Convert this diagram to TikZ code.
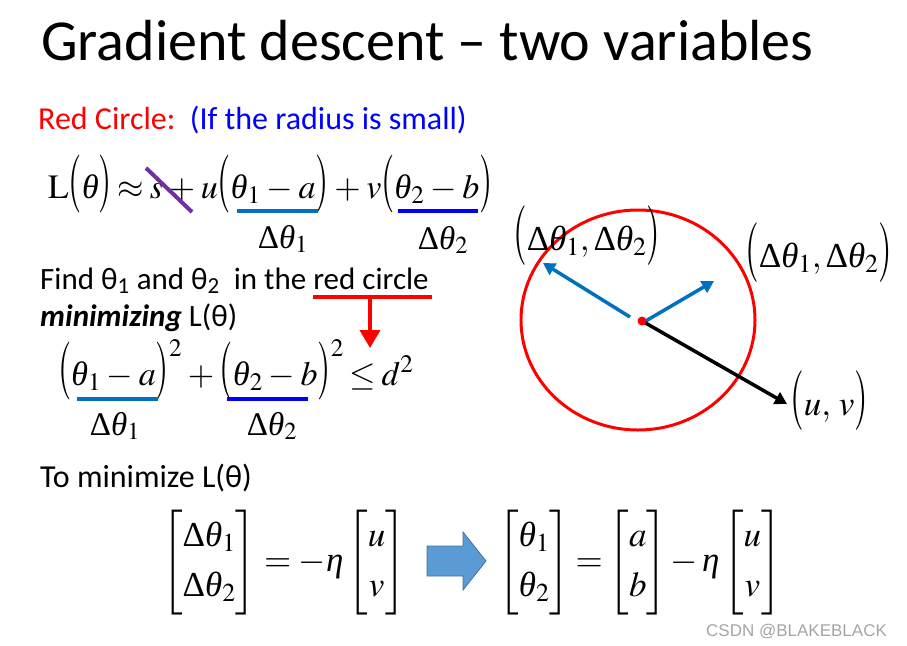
\documentclass[tikz,border=0pt]{standalone}
\usepackage{amsmath}
\usepackage{graphicx}
\usepackage{mathptmx}
\usepackage[no-math]{fontspec}
\setmainfont{Carlito}
\newfontfamily\wmfont{Liberation Sans}
\newfontfamily\tms{Liberation Serif}
\newfontfamily\tmsit{Liberation Serif Italic}
\newcommand{\thet}{\text{\tmsit θ}}
\newcommand{\etaa}{\text{\tmsit η}}
\newcommand{\Dlt}{\text{\tms Δ}}
\newcommand{\lpar}{\mathopen{\scalebox{1}[1.7]{$($}}}
\newcommand{\rpar}{\mathclose{\scalebox{1}[1.7]{$)$}}}
\newcommand{\sqr}{^{\raisebox{-5pt}{$\scriptstyle 2$}}}
\newcommand{\tightsp}{\medmuskip=3mu\relax\thickmuskip=3mu\relax}
\usetikzlibrary{arrows.meta}
\definecolor{ppblue}{RGB}{0,112,192}
\definecolor{pblue}{RGB}{0,0,255}
\definecolor{ppurple}{RGB}{112,48,160}
\definecolor{arrowfill}{RGB}{91,155,213}
\definecolor{arrowline}{RGB}{65,113,156}
\definecolor{wmgray}{RGB}{165,165,165}
\begin{document}
\begin{tikzpicture}[x=1pt,y=-1pt,
  titletext/.style={anchor=base west, inner sep=0, font=\fontsize{58}{62}\selectfont},
  bodytext/.style={anchor=base west, inner sep=0, font=\fontsize{32}{36}\selectfont},
  fml/.style={anchor=base west, inner sep=0, font=\fontsize{34}{40}\selectfont},
  fmlb/.style={anchor=base, inner sep=0, font=\fontsize{33}{40}\selectfont},
  lab/.style={anchor=base west, inner sep=0, font=\fontsize{35}{40}\selectfont},
  mat/.style={anchor=center, inner sep=0, font=\fontsize{35}{40}\selectfont},
  ulA/.style={draw=ppblue, line width=4pt},
  ulB/.style={draw=pblue, line width=4pt},
  vecarrow/.style={line width=3.5pt, -{Triangle[width=13pt,length=12pt]}},
]
\useasboundingbox (0,0) rectangle (907,645);
\fill[white] (0,0) rectangle (907,645);

% title
\node[titletext] (title) at (41,60) {Gradient descent -- two variables};

% red circle line
\node[bodytext] (rc) at (38,129) {\textcolor{red}{Red Circle:}\ \ \textcolor{pblue}{(If the radius is small)}};

% formula 1
\node[fml] (f1) at (48,198) {$\tightsp\mathrm{L}\lpar\thet\rpar\approx s+u\lpar\thet_1-a\rpar+v\lpar\thet_2-b\rpar$};
\draw[draw=ppurple, line width=4pt] (146,168) -- (192,212);
\draw[ulA] (237,211) -- (318,211);
\draw[ulB] (398,211) -- (478,211);
\node[fmlb] (d1a) at (283,248) {$\Dlt\thet_1$};
\node[fmlb] (d2a) at (443,249) {$\Dlt\thet_2$};

% find text
\node[bodytext, font=\fontsize{31}{36}\selectfont] (find) at (40,289) {Find θ\textsubscript{1} and θ\textsubscript{2}\ \ in the red circle};
\node[bodytext, font=\fontsize{31}{36}\selectfont] (minz) at (40,326) {\textbf{\textit{minimizing}} L(θ)};
\coordinate (rl1) at (313,297);
\coordinate (rl2) at (432,297);
\coordinate (rtop) at (370,297);
\coordinate (rbot) at (370,348);
\draw[red, line width=4pt] (rl1) -- (rl2);
\draw[red, line width=4pt, -{Triangle[width=20pt,length=18pt]}] (rtop) -- (rbot);

% formula 2
\node[fml] (f2) at (58,385) {$\tightsp\lpar\thet_1-a\rpar\sqr+\lpar\thet_2-b\rpar\sqr\leq d^2$};
\draw[ulA] (77,399) -- (158,399);
\draw[ulB] (227,399) -- (308,399);
\node[fmlb] (d1b) at (115,435) {$\Dlt\thet_1$};
\node[fmlb] (d2b) at (272,435) {$\Dlt\thet_2$};

% circle diagram
\draw[red, line width=3pt] (638,320) ellipse [x radius=117, y radius=110];
\coordinate (c0) at (642,321);
\coordinate (b1s) at (630,317);
\coordinate (b2s) at (644,322);
\coordinate (b1e) at (543,263);
\coordinate (b2e) at (714,281);
\coordinate (uve) at (787,404);
\draw[ppblue, vecarrow] (b1s) -- (b1e);
\draw[ppblue, vecarrow] (b2s) -- (b2e);
\draw[black, vecarrow] (c0) -- (uve);
\fill[red] (c0) circle (4.5);
\node[lab] (lab1) at (513,250) {$\lpar\Dlt\thet_1,\Dlt\thet_2\rpar$};
\node[lab] (lab2) at (745,267) {$\lpar\Dlt\thet_1,\Dlt\thet_2\rpar$};
\node[lab] (lab3) at (790,415) {$\lpar u,\,v\rpar$};

% to minimize
\node[bodytext] (tomin) at (40,487) {To minimize L(θ)};

% matrices
\node[mat] (eqL) at (284,563) {$\arraycolsep=7pt\relax\thickmuskip=4mu\relax\begin{bmatrix}\Dlt\thet_1\\[10pt]\Dlt\thet_2\end{bmatrix}=-\etaa\begin{bmatrix}u\\[10pt]v\end{bmatrix}$};
\node[mat] (eqR) at (640,563) {$\arraycolsep=7pt\relax\thickmuskip=3mu\relax\medmuskip=2mu\relax\begin{bmatrix}\thet_1\\[10pt]\thet_2\end{bmatrix}=\begin{bmatrix}a\\[10pt]b\end{bmatrix}-\etaa\begin{bmatrix}u\\[10pt]v\end{bmatrix}$};
\draw[fill=arrowfill, draw=arrowline, line width=0.8pt] (427,546) -- (463,546) -- (463,532) -- (486,561) -- (463,590) -- (463,576) -- (427,576) -- cycle;

% watermark
\node[anchor=base west, inner sep=0, text=wmgray, font=\wmfont\fontsize{17}{20}\selectfont] (wm) at (706,636) {CSDN @BLAKEBLACK};
\end{tikzpicture}
\end{document}
